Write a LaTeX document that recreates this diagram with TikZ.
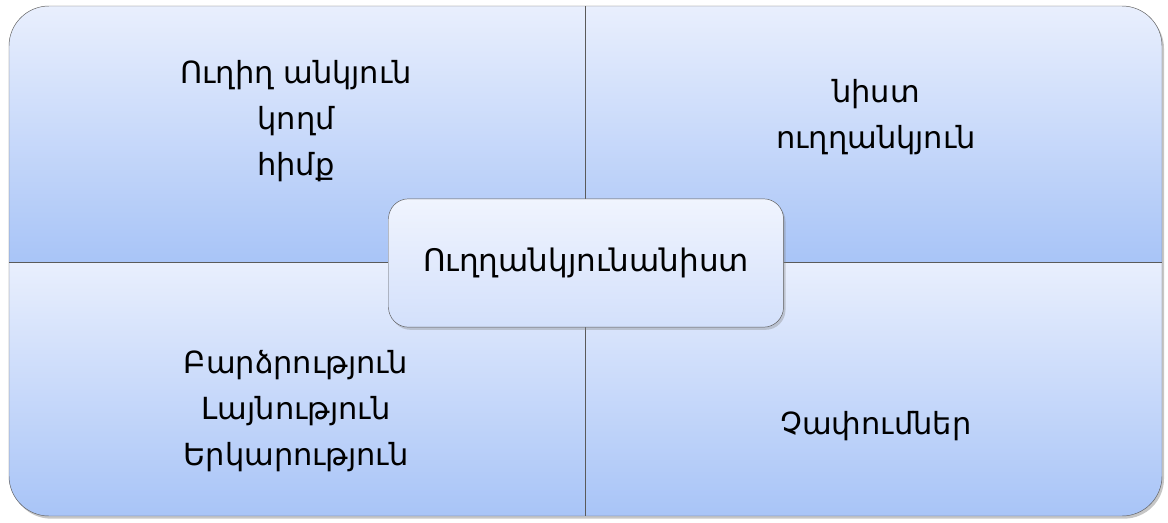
\documentclass[tikz,border=0pt]{standalone}
\usepackage{fontspec}
\setmainfont{DejaVu Sans}
\usepackage{tikz}
\usetikzlibrary{shadows, positioning}
\definecolor{quadtop}{RGB}{233,239,253}
\definecolor{quadbot}{RGB}{168,196,247}
\definecolor{hubtop}{RGB}{240,244,254}
\definecolor{hubbot}{RGB}{211,224,251}
\definecolor{edgegray}{RGB}{90,90,90}
\tikzset{
    quad/.style={top color=quadtop, bottom color=quadbot, draw=none},
    label/.style={align=center, font=\fontsize{26}{39.5}\selectfont, text=black},
    hub/.style={rectangle, rounded corners=0.6cm, draw=edgegray, thin, top color=hubtop, bottom color=hubbot,
        minimum width=11.85cm, minimum height=3.85cm, font=\fontsize{26.5}{39}\selectfont,
        drop shadow={opacity=0.35, shadow xshift=0.6mm, shadow yshift=-0.8mm}},
    divider/.style={draw=edgegray, thick}
}

\begin{document}
\begin{tikzpicture}[x=0.03cm, y=-0.03cm]
        \useasboundingbox (0,0) rectangle (1168,522);
        % Frame with shadow
        \path[fill=white, rounded corners=1.2cm, drop shadow={opacity=0.45, shadow xshift=0.6mm, shadow yshift=-0.8mm}]
            (9,6) rectangle (1162,516);
        % Quadrants
        \begin{scope}
            \clip[rounded corners=1.2cm] (9,6) rectangle (1162,516);
            \path[quad] (9,6) rectangle (585,262);
            \path[quad] (585,6) rectangle (1162,262);
            \path[quad] (9,262) rectangle (585,516);
            \path[quad] (585,262) rectangle (1162,516);
        \end{scope}
        \draw[edgegray, rounded corners=1.2cm] (9,6) rectangle (1162,516);
        % Dividers
        \coordinate (ntop) at (585,6);
        \coordinate (nbot) at (585,516);
        \coordinate (wmid) at (9,262);
        \coordinate (emid) at (1162,262);
        \draw[divider] (ntop) -- (nbot);
        \draw[divider] (wmid) -- (emid);
        % Texts
        \node (angles) [label] at (296,121) {Ուղիղ անկյուն\\կողմ\\հիմք};
        \node (faces) [label] at (876,117) {նիստ\\ուղղանկյուն};
        \node (sizes) [label] at (296,411) {Բարձրություն\\Լայնություն\\Երկարություն};
        \node (measures) [label] at (876,426) {Չափումներ};
        \node (prism) [hub] at (586,263) {Ուղղանկյունանիստ};
    \end{tikzpicture}
\end{document}
